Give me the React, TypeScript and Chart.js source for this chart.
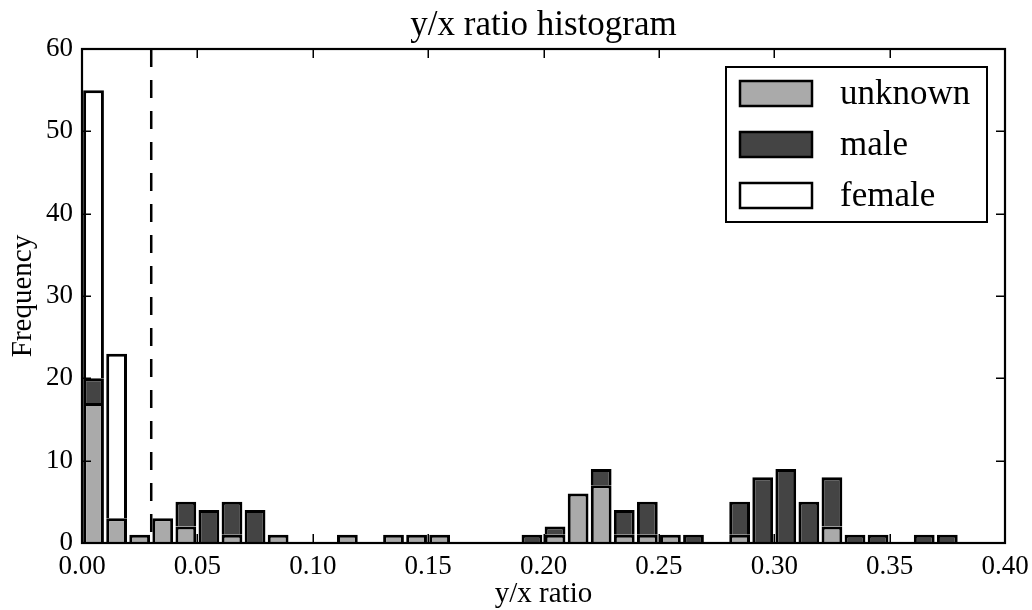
import React, { useEffect, useRef } from 'react';
import { Chart, registerables } from 'chart.js';

Chart.register(...registerables);

const FONT = "'Liberation Serif', 'Times New Roman', serif";

const titleText = 'y/x ratio histogram';
const xAxisLabel = 'y/x ratio';
const yAxisLabel = 'Frequency';

const binCenters = [
  0.005, 0.015, 0.025, 0.035, 0.045, 0.055, 0.065, 0.075, 0.085, 0.095,
  0.105, 0.115, 0.125, 0.135, 0.145, 0.155, 0.165, 0.175, 0.185, 0.195,
  0.205, 0.215, 0.225, 0.235, 0.245, 0.255, 0.265, 0.275, 0.285, 0.295,
  0.305, 0.315, 0.325, 0.335, 0.345, 0.355, 0.365, 0.375, 0.385, 0.395,
];

const unknownCounts = [
  17, 3, 1, 3, 2, 0, 1, 0, 1, 0,
  0, 1, 0, 1, 1, 1, 0, 0, 0, 0,
  1, 6, 7, 1, 1, 1, 0, 0, 1, 0,
  0, 0, 2, 0, 0, 0, 0, 0, 0, 0,
];
const maleCounts = [
  3, 0, 0, 0, 3, 4, 4, 4, 0, 0,
  0, 0, 0, 0, 0, 0, 0, 0, 0, 1,
  1, 0, 2, 3, 4, 0, 1, 0, 4, 8,
  9, 5, 6, 1, 1, 0, 1, 1, 0, 0,
];
const femaleCounts = [
  35, 20, 0, 0, 0, 0, 0, 0, 0, 0,
  0, 0, 0, 0, 0, 0, 0, 0, 0, 0,
  0, 0, 0, 0, 0, 0, 0, 0, 0, 0,
  0, 0, 0, 0, 0, 0, 0, 0, 0, 0,
];

const seriesNames = ['unknown', 'male', 'female'];
const seriesColors = ['#aaaaaa', '#444444', '#ffffff'];
const seriesCounts = [unknownCounts, maleCounts, femaleCounts];

const thresholdValue = 0.03;
const xTickValues = [0, 0.05, 0.1, 0.15, 0.2, 0.25, 0.3, 0.35, 0.4];
const yTickValues = [0, 10, 20, 30, 40, 50, 60];

const decorPlugin = {
  id: 'decor',
  afterDatasetsDraw(chart: any) {
    const { ctx, chartArea: a, scales } = chart;
    const x = scales.x;
    const y = scales.y;
    ctx.save();
    // dashed threshold line
    const xv = x.getPixelForValue(thresholdValue);
    ctx.strokeStyle = '#000';
    ctx.lineWidth = 2.5;
    ctx.setLineDash([18, 13]);
    ctx.beginPath();
    ctx.moveTo(xv, a.top);
    ctx.lineTo(xv, a.bottom);
    ctx.stroke();
    ctx.setLineDash([]);
    // inward ticks on all four sides
    ctx.lineWidth = 1.5;
    const tl = 9;
    ctx.beginPath();
    xTickValues.forEach((v) => {
      const px = Math.round(x.getPixelForValue(v)) + 0.25;
      ctx.moveTo(px, a.bottom);
      ctx.lineTo(px, a.bottom - tl);
      ctx.moveTo(px, a.top);
      ctx.lineTo(px, a.top + tl);
    });
    yTickValues.forEach((v) => {
      const py = Math.round(y.getPixelForValue(v)) + 0.25;
      ctx.moveTo(a.left, py);
      ctx.lineTo(a.left + tl, py);
      ctx.moveTo(a.right, py);
      ctx.lineTo(a.right - tl, py);
    });
    ctx.stroke();
    // frame
    ctx.lineWidth = 2.2;
    ctx.strokeRect(a.left, a.top, a.right - a.left, a.bottom - a.top);
    // legend
    const boxRight = a.right - 18;
    const boxLeft = boxRight - 261;
    const boxTop = a.top + 18;
    const boxH = 155;
    ctx.fillStyle = '#fff';
    ctx.fillRect(boxLeft, boxTop, boxRight - boxLeft, boxH);
    ctx.lineWidth = 2;
    ctx.strokeRect(boxLeft, boxTop, boxRight - boxLeft, boxH);
    ctx.font = `35px ${FONT}`;
    ctx.textBaseline = 'middle';
    ctx.textAlign = 'left';
    seriesNames.forEach((name, i) => {
      const cy = boxTop + 26.5 + i * 51;
      ctx.fillStyle = seriesColors[i];
      ctx.fillRect(boxLeft + 14, cy - 12.5, 72, 25);
      ctx.lineWidth = 2.5;
      ctx.strokeStyle = '#000';
      ctx.strokeRect(boxLeft + 14, cy - 12.5, 72, 25);
      ctx.fillStyle = '#000';
      ctx.fillText(name, boxLeft + 114, cy + 1);
    });
    ctx.restore();
  },
};

export default function App() {
  const canvasRef = useRef<HTMLCanvasElement | null>(null);

  useEffect(() => {
    const canvas = canvasRef.current;
    if (!canvas) return;
    Chart.defaults.font.family = FONT;
    Chart.defaults.color = '#000';
    const chart = new Chart(canvas, {
      type: 'bar',
      data: {
        datasets: seriesNames.map((name, i) => ({
          label: name,
          data: binCenters.map((c, j) => ({ x: c, y: seriesCounts[i][j] === 0 ? null : seriesCounts[i][j] })),
          backgroundColor: seriesColors[i],
          borderColor: '#000',
          borderWidth: 3,
          borderSkipped: 'bottom',
          barPercentage: 0.9,
          categoryPercentage: 1,
        })),
      } as any,
      options: {
        animation: false,
        responsive: false,
        maintainAspectRatio: false,
        layout: { autoPadding: false, padding: { left: 0, right: 27, top: 0, bottom: 0 } },
        plugins: {
          legend: { display: false },
          tooltip: { enabled: false },
          title: {
            display: true,
            fullSize: false,
            text: titleText,
            color: '#000',
            font: { family: FONT, size: 35, weight: 'normal' as any },
            padding: { top: 5, bottom: 2 },
          },
        },
        scales: {
          x: {
            type: 'linear',
            stacked: true,
            min: 0,
            max: 0.4,
            offset: false,
            grid: { display: false, drawTicks: false },
            border: { display: false },
            ticks: {
              stepSize: 0.05,
              padding: 8,
              font: { family: FONT, size: 27 },
              color: '#000',
              maxRotation: 0,
              autoSkip: false,
              callback: (v: any) => Number(v).toFixed(2),
            },
            title: {
              display: true,
              text: xAxisLabel,
              color: '#000',
              font: { family: FONT, size: 29, lineHeight: 1.05 },
              padding: { top: 0, bottom: 0 },
            },
            afterFit: (s: any) => {
              s.height = 67;
              s.paddingLeft = 0;
              s.paddingRight = 0;
            },
          },
          y: {
            stacked: true,
            min: 0,
            max: 60,
            grid: { display: false, drawTicks: false },
            border: { display: false },
            ticks: {
              stepSize: 10,
              padding: 9,
              font: { family: FONT, size: 27 },
              color: '#000',
            },
            title: {
              display: true,
              text: yAxisLabel,
              color: '#000',
              font: { family: FONT, size: 29 },
              padding: { top: 6, bottom: 0 },
            },
            afterFit: (s: any) => {
              s.width = 82;
              s.paddingTop = 0;
              s.paddingBottom = 0;
            },
          },
        },
      } as any,
      plugins: [decorPlugin],
    });
    return () => chart.destroy();
  }, []);

  return (
    <div style={{ position: 'fixed', left: 0, top: 0, width: 1032, height: 610, background: '#fff' }}>
      <canvas ref={canvasRef} width={1032} height={610} style={{ display: 'block' }} />
    </div>
  );
}
